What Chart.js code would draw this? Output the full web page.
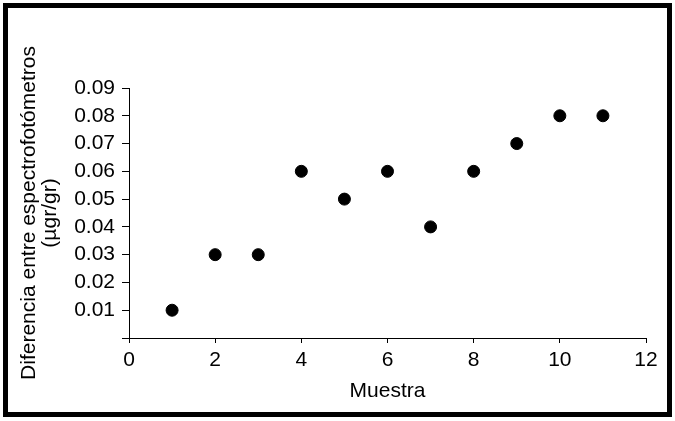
<!DOCTYPE html>
<html>
<head>
<meta charset="utf-8">
<script src="https://cdn.jsdelivr.net/npm/chart.js@4/dist/chart.umd.min.js"></script>
<style>
    html, body {
        margin: 0;
        padding: 0;
        background: #ffffff;
    }
    #wrap {
        position: relative;
        width: 675px;
        height: 421px;
    }
    #chart {
        position: absolute;
        left: 0;
        top: 0;
    }
    #frame {
        position: absolute;
        left: 3px;
        top: 3px;
        width: 669px;
        height: 414px;
        box-sizing: border-box;
        border: 5px solid #000000;
        pointer-events: none;
    }
</style>
</head>
<body>
<div id="wrap">
    <canvas id="chart" width="675" height="421"></canvas>
    <div id="frame"></div>
</div>
<script>
// Sample number (x) and difference between spectrophotometers (y)
const muestras = [1, 2, 3, 4, 5, 6, 7, 8, 9, 10, 11];
const diferencias = [0.01, 0.03, 0.03, 0.06, 0.05, 0.06, 0.04, 0.06, 0.07, 0.08, 0.08];

const xTitle = "Muestra";
const yTitle = ["Diferencia entre espectrofotómetros", "(µgr/gr)"];

const fontFamily = "'Liberation Sans', Arial, sans-serif";

// Build the scatter points from the two arrays
const points = muestras.map((m, i) => ({ x: m, y: diferencias[i] }));

const chartCanvas = document.querySelector("#chart");

new Chart(chartCanvas, {
    type: "scatter",
    data: {
        datasets: [
            {
                data: points,
                backgroundColor: "#000000",
                borderColor: "#000000",
                pointRadius: 6,
                pointHoverRadius: 6,
                showLine: false,
            },
        ],
    },
    options: {
        responsive: false,
        animation: false,
        devicePixelRatio: 1,
        layout: {
            padding: { left: 19, top: 88, right: 29, bottom: 19 },
        },
        scales: {
            x: {
                type: "linear",
                min: 0,
                max: 12,
                afterFit: (scale) => {
                    scale.height = 64;
                },
                ticks: {
                    stepSize: 2,
                    autoSkip: false,
                    color: "#000000",
                    padding: 5,
                    font: { family: fontFamily, size: 21 },
                },
                grid: {
                    drawOnChartArea: false,
                    drawTicks: true,
                    tickLength: 5,
                    color: "#000000",
                },
                border: { display: true, color: "#000000", width: 1 },
                title: {
                    display: true,
                    text: xTitle,
                    color: "#000000",
                    padding: 0,
                    font: { family: fontFamily, size: 21, lineHeight: 1.0 },
                },
            },
            y: {
                type: "linear",
                min: 0,
                max: 0.09,
                afterFit: (scale) => {
                    scale.width = 110;
                },
                ticks: {
                    stepSize: 0.01,
                    autoSkip: false,
                    color: "#000000",
                    padding: 7,
                    font: { family: fontFamily, size: 21 },
                    // the zero label is left out in the original
                    callback: (value) => (value === 0 ? "" : value.toFixed(2)),
                },
                grid: {
                    drawOnChartArea: false,
                    drawTicks: true,
                    tickLength: 7,
                    color: "#000000",
                },
                border: { display: true, color: "#000000", width: 1 },
                title: {
                    display: true,
                    text: yTitle,
                    color: "#000000",
                    padding: 0,
                    font: { family: fontFamily, size: 21, lineHeight: 1.0 },
                },
            },
        },
        plugins: {
            legend: { display: false },
            tooltip: { enabled: false },
        },
    },
});
</script>
</body>
</html>
